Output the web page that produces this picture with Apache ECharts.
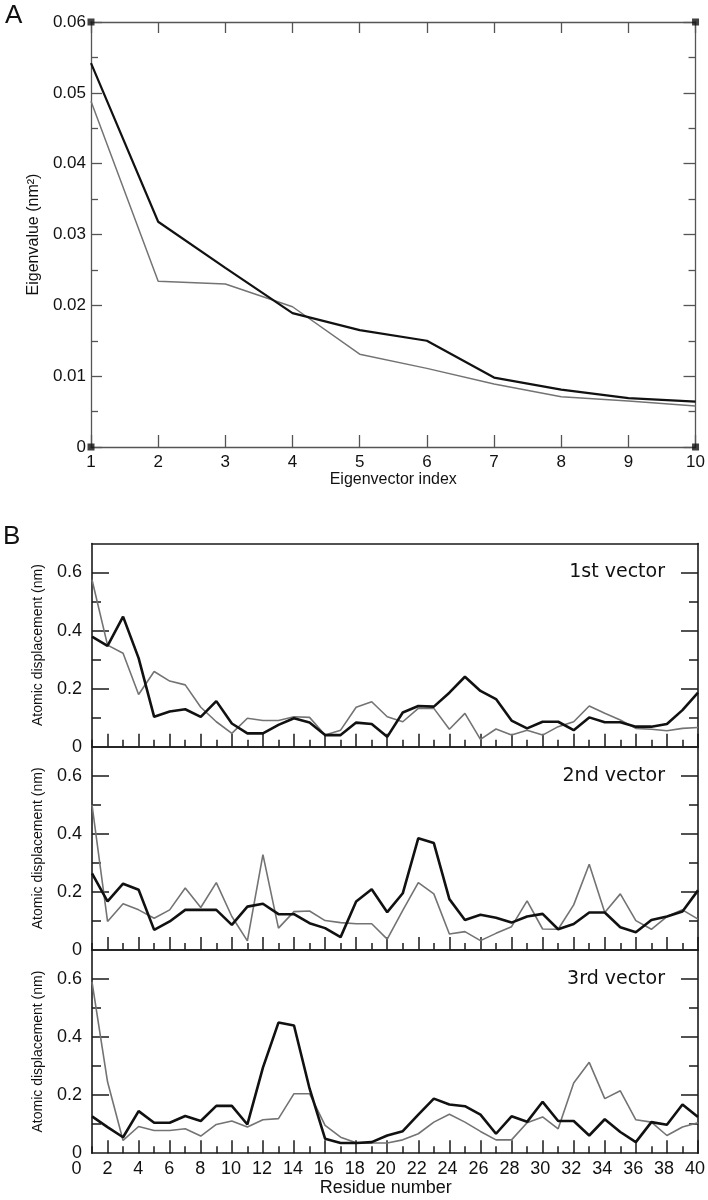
<!DOCTYPE html>
<html><head><meta charset="utf-8">
<script src="https://cdn.jsdelivr.net/npm/echarts@6/dist/echarts.min.js"></script>
<style>html,body{margin:0;padding:0;background:#fff}#c{width:708px;height:1200px}</style>
</head><body><div id="c"></div>
<script>
// ---------- Panel A data ----------
const eigIndex = [1, 2, 3, 4, 5, 6, 7, 8, 9, 10];
const eigBlack = [0.0542, 0.0318, 0.0253, 0.0189, 0.0165, 0.0150, 0.0098, 0.0081, 0.0069, 0.0064];
const eigGray  = [0.0488, 0.0234, 0.0230, 0.0198, 0.0131, 0.0111, 0.0089, 0.0071, 0.0065, 0.0058];

// ---------- Panel B data ----------
const residues = [1,2,3,4,5,6,7,8,9,10,11,12,13,14,15,16,17,18,19,20,
                  21,22,23,24,25,26,27,28,29,30,31,32,33,34,35,36,37,38,39,40];
const v1Black = [0.379,0.347,0.448,0.305,0.103,0.121,0.129,0.103,0.157,0.080,
                 0.046,0.046,0.075,0.098,0.083,0.040,0.040,0.083,0.078,0.034,
                 0.118,0.140,0.138,0.186,0.241,0.192,0.164,0.090,0.063,0.086,
                 0.086,0.057,0.101,0.084,0.084,0.069,0.069,0.078,0.126,0.186];
const v1Gray  = [0.575,0.350,0.322,0.180,0.259,0.226,0.213,0.136,0.086,0.046,
                 0.098,0.090,0.090,0.103,0.101,0.040,0.057,0.136,0.155,0.103,
                 0.086,0.132,0.132,0.060,0.115,0.025,0.061,0.040,0.057,0.040,
                 0.069,0.086,0.140,0.115,0.092,0.063,0.060,0.055,0.063,0.066];
const v2Black = [0.264,0.167,0.228,0.207,0.069,0.098,0.138,0.138,0.138,0.086,
                 0.149,0.159,0.123,0.123,0.092,0.075,0.044,0.167,0.209,0.130,
                 0.195,0.385,0.368,0.175,0.103,0.121,0.111,0.094,0.115,0.124,
                 0.071,0.089,0.129,0.129,0.078,0.061,0.103,0.115,0.132,0.205];
const v2Gray  = [0.500,0.098,0.159,0.138,0.109,0.138,0.213,0.146,0.232,0.115,
                 0.031,0.328,0.075,0.132,0.134,0.101,0.094,0.090,0.090,0.037,
                 0.136,0.232,0.193,0.055,0.063,0.032,0.057,0.080,0.169,0.072,
                 0.071,0.155,0.295,0.129,0.193,0.101,0.071,0.115,0.138,0.106];
const v3Black = [0.127,0.090,0.055,0.145,0.105,0.105,0.128,0.111,0.163,0.163,
                 0.099,0.295,0.450,0.440,0.223,0.050,0.035,0.035,0.038,0.061,
                 0.076,0.133,0.188,0.168,0.162,0.133,0.067,0.127,0.108,0.177,
                 0.111,0.111,0.061,0.117,0.073,0.038,0.107,0.098,0.168,0.125];
const v3Gray  = [0.590,0.246,0.044,0.092,0.078,0.078,0.084,0.059,0.099,0.111,
                 0.090,0.115,0.119,0.205,0.205,0.096,0.055,0.036,0.035,0.035,
                 0.046,0.067,0.107,0.134,0.107,0.075,0.046,0.046,0.105,0.125,
                 0.084,0.242,0.313,0.188,0.215,0.115,0.107,0.061,0.090,0.105];
const vectorNames = ['1st vector', '2nd vector', '3rd vector'];
const blackSets = [v1Black, v2Black, v3Black];
const graySets  = [v1Gray, v2Gray, v3Gray];

// tick labels / tick positions
const bXLabels = [0,2,4,6,8,10,12,14,16,18,20,22,24,26,28,30,32,34,36,38,40];
const bXLongTicks = [2,4,6,8,10,12,14,16,18,20,22,24,26,28,30,32,34,36,38,40];
const bXShortTicks = [1,3,5,7,9,11,13,15,17,19,21,23,25,27,29,31,33,35,37,39];
const bYLabels = [0, 0.2, 0.4, 0.6];
const bYLongTicks = [0.2, 0.4, 0.6];
const bYShortTicks = [0.1, 0.3, 0.5];

// ---------- layout ----------
const W = 708;
const FONT = '"Liberation Sans", Arial, sans-serif';
const A = {left: 91, right: 10, top: 22, height: 425};
const B = {left: 92, right: 10, tops: [543.5, 746.7, 950], height: 203.2};
const bWidth = W - B.left - B.right;
const labelGridLeft = B.left - bWidth / 39;  // x = 0 one unit left of x = 1
const bYMax = 0.7;

const grid = [{left: A.left, right: A.right, top: A.top, height: A.height}];
B.tops.forEach(t => {
  grid.push({left: B.left, right: B.right, top: t, height: B.height}); // frame + long ticks
  grid.push({left: B.left, right: B.right, top: t, height: B.height}); // short ticks
});
const labelGridIndex = grid.length;
grid.push({left: labelGridLeft, right: B.right, top: B.tops[2], height: B.height});

const axisColA = '#555';
const axisColB = '#1a1a1a';
const xAxis = [];
const yAxis = [];
const series = [];

// Panel A axes
xAxis.push({gridIndex: 0, type: 'value', min: 1, max: 10, interval: 1, position: 'bottom',
  axisLine: {onZero: false, lineStyle: {color: axisColA, width: 1.3}},
  axisTick: {inside: true, length: 12, lineStyle: {color: axisColA, width: 1.3}},
  axisLabel: {fontSize: 17, color: '#111', margin: 7, fontFamily: FONT},
  splitLine: {show: false},
  name: 'Eigenvector index', nameLocation: 'middle', nameGap: 23,
  nameTextStyle: {fontSize: 16, color: '#111', fontFamily: FONT}});
xAxis.push({gridIndex: 0, type: 'value', min: 1, max: 10, interval: 1, position: 'top',
  axisLine: {onZero: false, lineStyle: {color: axisColA, width: 1.3}},
  axisTick: {inside: true, length: 11, lineStyle: {color: axisColA, width: 1.3}},
  axisLabel: {show: false}, splitLine: {show: false}});
yAxis.push({gridIndex: 0, type: 'value', min: 0, max: 0.06, interval: 0.01, position: 'left',
  axisLine: {show: true, onZero: false, lineStyle: {color: axisColA, width: 1.3}},
  axisTick: {show: true, inside: true, length: 11, lineStyle: {color: axisColA, width: 1.3}},
  minorTick: {show: true, splitNumber: 2, length: 7, lineStyle: {color: axisColA, width: 1.3}},
  axisLabel: {fontSize: 17, color: '#111', margin: 5, fontFamily: FONT},
  splitLine: {show: false},
  name: 'Eigenvalue (nm²)', nameLocation: 'middle', nameGap: 46, nameRotate: 90,
  nameTextStyle: {fontSize: 16, color: '#111', fontFamily: FONT}});
yAxis.push({gridIndex: 0, type: 'value', min: 0, max: 0.06, interval: 0.01, position: 'right',
  axisLine: {show: true, onZero: false, lineStyle: {color: axisColA, width: 1.3}},
  axisTick: {show: true, inside: true, length: 12, lineStyle: {color: axisColA, width: 1.3}},
  minorTick: {show: true, splitNumber: 2, length: 7, lineStyle: {color: axisColA, width: 1.3}},
  axisLabel: {show: false}, splitLine: {show: false}});

series.push({type: 'line', xAxisIndex: 0, yAxisIndex: 0, symbol: 'none',
  data: eigIndex.map((x, i) => [x, eigGray[i]]),
  lineStyle: {color: '#737373', width: 1.5}, z: 3});
series.push({type: 'line', xAxisIndex: 0, yAxisIndex: 0, symbol: 'none',
  data: eigIndex.map((x, i) => [x, eigBlack[i]]),
  lineStyle: {color: '#111', width: 2.2}, z: 4});
// corner squares of panel A frame (at the axis extents)
const aX = [eigIndex[0], eigIndex[eigIndex.length - 1]];
const aY = [0, 0.06];
series.push({type: 'scatter', xAxisIndex: 0, yAxisIndex: 0, symbol: 'rect', symbolSize: 7,
  itemStyle: {color: '#111'}, clip: false, silent: true, z: 6,
  data: [[aX[0], aY[0]], [aX[1], aY[0]], [aX[0], aY[1]], [aX[1], aY[1]]]});

// Panel B axes
const tickStyle = {color: axisColB, width: 1.5};
const lineStyle = {color: axisColB, width: 1.6};
B.tops.forEach((t, k) => {
  const gMain = 1 + 2 * k, gTick = 2 + 2 * k;
  const xi = xAxis.length;
  // main grid: frame + long ticks
  xAxis.push({gridIndex: gMain, type: 'value', min: 1, max: 40, position: 'bottom',
    axisLine: {onZero: false, lineStyle},
    axisTick: {inside: true, length: 13, customValues: bXLongTicks, lineStyle: tickStyle},
    axisLabel: {show: false}, splitLine: {show: false}});
  xAxis.push({gridIndex: gMain, type: 'value', min: 1, max: 40, position: 'top',
    axisLine: {onZero: false, lineStyle},
    axisTick: {show: false}, axisLabel: {show: false}, splitLine: {show: false}});
  const yi = yAxis.length;
  yAxis.push({gridIndex: gMain, type: 'value', min: 0, max: bYMax, position: 'left',
    axisLine: {show: true, onZero: false, lineStyle},
    axisTick: {show: true, inside: true, length: 17, customValues: bYLongTicks, lineStyle: tickStyle},
    axisLabel: {customValues: bYLabels, fontSize: 18, color: '#111', margin: 10, fontFamily: FONT},
    splitLine: {show: false},
    name: 'Atomic displacement (nm)', nameLocation: 'middle', nameGap: 47, nameRotate: 90,
    nameTextStyle: {fontSize: 14, color: '#111', fontFamily: FONT}});
  yAxis.push({gridIndex: gMain, type: 'value', min: 0, max: bYMax, position: 'right',
    axisLine: {show: true, onZero: false, lineStyle},
    axisTick: {show: true, inside: true, length: 17, customValues: bYLongTicks, lineStyle: tickStyle},
    axisLabel: {show: false}, splitLine: {show: false}});
  // tick grid: short ticks
  xAxis.push({gridIndex: gTick, type: 'value', min: 1, max: 40, position: 'bottom',
    axisLine: {show: false, onZero: false},
    axisTick: {show: true, inside: true, length: 7, customValues: bXShortTicks, lineStyle: tickStyle},
    axisLabel: {show: false}, splitLine: {show: false}});
  yAxis.push({gridIndex: gTick, type: 'value', min: 0, max: bYMax, position: 'left',
    axisLine: {show: false, onZero: false},
    axisTick: {show: true, inside: true, length: 9, customValues: bYShortTicks, lineStyle: tickStyle},
    axisLabel: {show: false}, splitLine: {show: false}});
  yAxis.push({gridIndex: gTick, type: 'value', min: 0, max: bYMax, position: 'right',
    axisLine: {show: false, onZero: false},
    axisTick: {show: true, inside: true, length: 9, customValues: bYShortTicks, lineStyle: tickStyle},
    axisLabel: {show: false}, splitLine: {show: false}});

  series.push({type: 'line', xAxisIndex: xi, yAxisIndex: yi, symbol: 'none',
    data: residues.map((x, i) => [x, graySets[k][i]]),
    lineStyle: {color: '#737373', width: 1.6}, z: 3});
  series.push({type: 'line', xAxisIndex: xi, yAxisIndex: yi, symbol: 'none',
    data: residues.map((x, i) => [x, blackSets[k][i]]),
    lineStyle: {color: '#111', width: 2.6}, z: 4});
});

// label-only axis for residue numbers (x = 0 .. 40)
xAxis.push({gridIndex: labelGridIndex, type: 'value', min: 0, max: 40, position: 'bottom',
  axisLine: {show: false, onZero: false}, axisTick: {show: false}, splitLine: {show: false},
  axisLabel: {customValues: bXLabels, fontSize: 18, color: '#111', margin: 7, fontFamily: FONT},
  name: 'Residue number', nameLocation: 'middle', nameGap: 25,
  nameTextStyle: {fontSize: 18, color: '#111', fontFamily: FONT}});
yAxis.push({gridIndex: labelGridIndex, type: 'value', min: 0, max: 1, show: false,
  axisLine: {onZero: false}});

// texts
const graphic = [
  {type: 'text', left: 5, top: 3, style: {text: 'A', fontSize: 26, fill: '#111', fontFamily: FONT}},
  {type: 'text', left: 3, top: 524, style: {text: 'B', fontSize: 26, fill: '#111', fontFamily: FONT}}
];
B.tops.forEach((t, k) => {
  const yPix = t + B.height * (1 - 0.6 / bYMax);
  graphic.push({type: 'text', x: W - B.right - 33, y: yPix,
    style: {text: vectorNames[k], fontSize: 19, fill: '#111', align: 'right', verticalAlign: 'middle',
      fontFamily: '"DejaVu Sans", Verdana, sans-serif'}});
});

const chart = echarts.init(document.getElementById('c'), null, {renderer: 'canvas'});
chart.setOption({
  animation: false,
  backgroundColor: '#fff',
  grid, xAxis, yAxis, series, graphic
});
</script></body></html>
